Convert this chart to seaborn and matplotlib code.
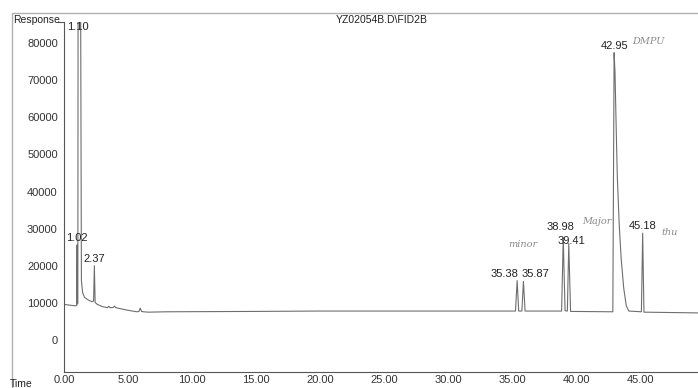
import matplotlib
matplotlib.use("Agg")
import matplotlib.pyplot as plt
from matplotlib.lines import Line2D
from matplotlib.ticker import MultipleLocator, FormatStrFormatter
import numpy as np
import pandas as pd
import seaborn as sns

# Integrated peaks: retention time (min), apex response, printed label
peak_rt = [1.02, 1.10, 2.37, 35.38, 35.87, 38.98, 39.41, 42.95, 45.18]
peak_height = [25600, 90000, 20000, 16000, 15800, 27500, 26000, 77400, 28800]
peak_label = ["1.02", "1.10", "2.37", "35.38", "35.87", "38.98", "39.41", "42.95", "45.18"]

# Baseline and peak-flank vertices of the FID trace (min, response)
trace_time = [0.00, 0.40, 0.90, 0.99, 1.05, 1.08, 1.30, 1.36, 1.45, 1.60, 1.80,
              2.00, 2.20, 2.31, 2.43, 2.60, 3.00, 3.40, 3.50, 3.60, 3.85, 3.95,
              4.05, 5.00, 5.70, 5.85, 5.95, 6.05, 6.20, 6.60, 8.00, 15.00, 20.00,
              25.00, 30.00, 35.25, 35.50, 35.75, 36.00, 38.85, 39.12, 39.30, 39.55,
              42.85, 43.02, 43.12, 43.20, 43.35, 43.50, 43.70, 43.90, 44.10, 45.08,
              45.28, 49.50]
trace_resp = [9600, 9400, 9200, 9300, 9700, 10000, 90000, 16000, 12800, 11500, 11000,
              10600, 10300, 10500, 10100, 9600, 9000, 8700, 9100, 8700, 8800, 9100,
              8700, 8000, 7600, 7700, 8600, 7700, 7600, 7500, 7600, 7700, 7800,
              7800, 7800, 7800, 7800, 7800, 7800, 7800, 7900, 7800, 7700,
              7600, 72000, 56000, 44000, 31000, 22000, 14000, 9200, 7800, 7600,
              7500, 7300]

# Handwritten notes on the printout
note_text = ["minor", "Major", "DMPU", "thu"]
note_time = [35.8, 41.6, 45.6, 47.3]
note_resp = [25600, 31800, 80500, 29000]

sns.set_style("white")
plt.rcParams["font.family"] = ["Liberation Sans", "DejaVu Sans"]

df = pd.DataFrame({"Time": trace_time + peak_rt,
                   "Response": trace_resp + peak_height}).sort_values("Time")

fig = plt.figure(figsize=(6.98, 3.88), dpi=100)
W, H = 698, 388
ax = fig.add_axes([64 / W, 16 / H, (W - 64) / W, (372 - 22) / H])

sns.lineplot(data=df, x="Time", y="Response", ax=ax, sort=False,
             estimator=None, color="#6e6e6e", linewidth=0.8)

ax.set_xlim(0, 49.5)
ax.set_ylim(-8620, 85660)
ax.set_xlabel("")
ax.set_ylabel("")

ax.xaxis.set_major_locator(MultipleLocator(5))
ax.xaxis.set_minor_locator(MultipleLocator(1))
ax.xaxis.set_major_formatter(FormatStrFormatter("%.2f"))
ax.yaxis.set_major_locator(MultipleLocator(10000))
ax.yaxis.set_minor_locator(MultipleLocator(2000))

for s in ["top", "right"]:
    ax.spines[s].set_visible(False)
for s in ["left", "bottom"]:
    ax.spines[s].set_color("#555555")
    ax.spines[s].set_linewidth(0.8)

ax.tick_params(axis="x", which="major", direction="in", length=4, width=0.7,
               color="#555555", labelsize=8, labelcolor="#333333", pad=2)
ax.tick_params(axis="x", which="minor", direction="in", length=2, width=0.6,
               color="#555555")
ax.tick_params(axis="y", which="major", direction="out", length=3, width=0.7,
               color="#555555", labelsize=8, labelcolor="#333333", pad=1.5)
ax.tick_params(axis="y", which="minor", direction="out", length=1.5, width=0.6,
               color="#555555")

# Retention-time labels above each peak; crowded pairs are nudged apart
top_label = 82300
nudge = {"35.38": (-9, 1.5), "35.87": (9, 1.5), "38.98": (-2, 4), "39.41": (2, -1.5)}
for t, h, lab in zip(peak_rt, peak_height, peak_label):
    dx, dy = nudge.get(lab, (0, 1.5))
    ax.annotate(lab, xy=(t, min(h, top_label)), xytext=(dx, dy),
                textcoords="offset points", ha="center", va="bottom",
                fontsize=8, color="#222222", annotation_clip=False)

for txt, t, r in zip(note_text, note_time, note_resp):
    ax.text(t, r, txt, ha="center", va="center", fontsize=7, color="#8a8a8a",
            family="DejaVu Serif", style="italic")

# Header and axis captions
fig.text(382 / W, 1 - 20 / H, "YZ02054B.D\\FID2B", ha="center", va="center",
         fontsize=7.5, color="#222222")
fig.text(13 / W, 1 - 20 / H, "Response", ha="left", va="center",
         fontsize=7.5, color="#222222")
fig.add_artist(Line2D([58 / W, 64 / W], [1 - 22 / H, 1 - 22 / H],
                      color="#555555", lw=0.8))
fig.text(10 / W, 1 - 384 / H, "Time", ha="left", va="center",
         fontsize=7.5, color="#222222")

# Page frame
fig.add_artist(Line2D([12 / W, 1.0], [1 - 13 / H, 1 - 13 / H], color="#b0b0b0", lw=1))
fig.add_artist(Line2D([12 / W, 12 / W], [0, 1 - 13 / H], color="#b0b0b0", lw=1))

fig.savefig("out.png", dpi=100)
